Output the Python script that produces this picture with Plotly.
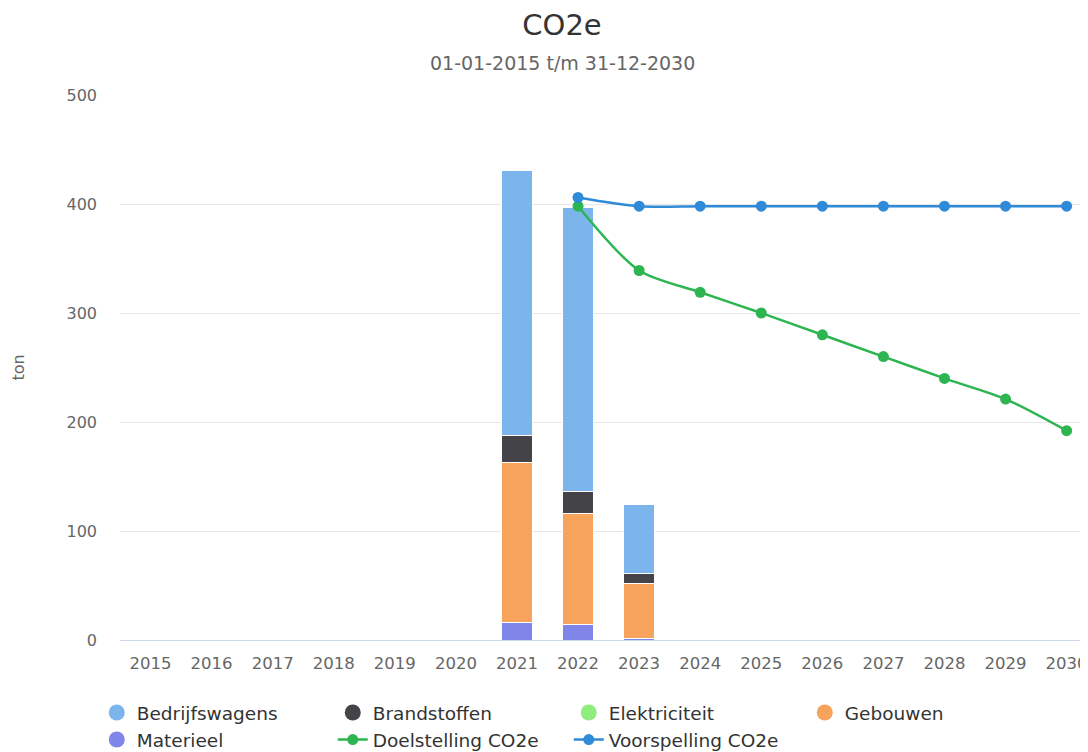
import plotly.graph_objects as go

# Data
years = [str(y) for y in range(2015, 2031)]

bedrijfswagens = [0, 0, 0, 0, 0, 0, 243, 261, 63, 0, 0, 0, 0, 0, 0, 0]
brandstoffen   = [0, 0, 0, 0, 0, 0, 25, 20, 9, 0, 0, 0, 0, 0, 0, 0]
elektriciteit  = [0, 0, 0, 0, 0, 0, 0, 0, 0, 0, 0, 0, 0, 0, 0, 0]
gebouwen       = [0, 0, 0, 0, 0, 0, 147, 102, 51, 0, 0, 0, 0, 0, 0, 0]
materieel      = [0, 0, 0, 0, 0, 0, 16, 14, 1, 0, 0, 0, 0, 0, 0, 0]

line_years = [str(y) for y in range(2022, 2031)]
doelstelling = [398, 339, 319, 300, 280, 260, 240, 221, 192]
voorspelling = [406, 398, 398, 398, 398, 398, 398, 398, 398]

FONT = "DejaVu Sans"
C_BEDR = "#7cb5ec"
C_BRAND = "#434348"
C_ELEK = "#90ed7d"
C_GEB = "#f7a35c"
C_MAT = "#8085e9"
C_DOEL = "#2db552"
C_VOOR = "#2f8ad8"

fig = go.Figure()

# stacked bars, bottom to top
bar_series = [
    ("Materieel", materieel, C_MAT),
    ("Gebouwen", gebouwen, C_GEB),
    ("Elektriciteit", elektriciteit, C_ELEK),
    ("Brandstoffen", brandstoffen, C_BRAND),
    ("Bedrijfswagens", bedrijfswagens, C_BEDR),
]
for name, vals, col in bar_series:
    fig.add_trace(go.Bar(
        x=years, y=vals, name=name, marker_color=col,
        marker_line=dict(color="white", width=1),
        width=0.5, showlegend=False,
    ))

# legend entries with round symbols (Highcharts style)
legend_items = [
    ("Bedrijfswagens", C_BEDR),
    ("Brandstoffen", C_BRAND),
    ("Elektriciteit", C_ELEK),
    ("Gebouwen", C_GEB),
    ("Materieel", C_MAT),
]
for name, col in legend_items:
    fig.add_trace(go.Scatter(
        x=[None], y=[None], mode="markers", name=name,
        marker=dict(symbol="circle", size=17, color=col),
    ))

fig.add_trace(go.Scatter(
    x=line_years, y=doelstelling, name="Doelstelling CO2e",
    mode="lines+markers", line=dict(color=C_DOEL, width=2.5, shape="spline", smoothing=0.8),
    marker=dict(size=11, color=C_DOEL),
))
fig.add_trace(go.Scatter(
    x=line_years, y=voorspelling, name="Voorspelling CO2e",
    mode="lines+markers", line=dict(color=C_VOOR, width=2.5, shape="spline", smoothing=0.8),
    marker=dict(size=11, color=C_VOOR),
))

# page body has an 8px margin, so the figure is a bit smaller than the window
fig.update_layout(
    width=1080, height=744,
    barmode="stack",
    plot_bgcolor="white", paper_bgcolor="white",
    font=dict(family=FONT, color="#666666", size=16),
    margin=dict(l=112, r=0, t=87, b=112, autoexpand=False),
    title=dict(text="CO2e", x=554 / 1080, xref="container", xanchor="center",
               y=1 - 17 / 744, yanchor="middle",
               font=dict(size=29, color="#333333")),
    legend=dict(orientation="h", x=-0.024, xanchor="left", y=-0.099, yanchor="top",
                traceorder="normal", entrywidth=191, entrywidthmode="pixels",
                font=dict(size=18.5, color="#333333"), itemclick=False),
    annotations=[
        dict(text="01-01-2015 t/m 31-12-2030", x=442 / 968, xref="paper", y=1 + 32 / 545,
             yref="paper", xanchor="center", yanchor="middle", showarrow=False,
             font=dict(size=19, color="#666666")),
        dict(text="ton", textangle=-90, x=-102 / 968, xref="paper", y=0.5, yref="paper",
             xanchor="center", yanchor="middle", showarrow=False,
             font=dict(size=16, color="#666666")),
    ],
)

fig.update_xaxes(
    type="category", range=[-0.5, 15.35],
    showgrid=False, showline=True, linecolor="#ccd6eb", linewidth=1,
    ticks="", ticklabelstandoff=8, tickfont=dict(size=16.5, color="#666666"),
)
fig.update_yaxes(
    range=[0, 500], dtick=100, showgrid=True, gridcolor="#e6e6e6",
    zeroline=False, showline=False, ticklabelstandoff=22,
    tickfont=dict(size=16, color="#666666"),
)

fig.write_html("out.html")
